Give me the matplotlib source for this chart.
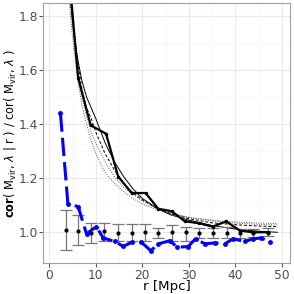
import numpy as np
import matplotlib
matplotlib.use("Agg")
import matplotlib.pyplot as plt

# thick measured ratio (black)
r_thick = [3.5, 6.2, 8.9, 12.2, 14.8, 17.7, 20.7, 23.4, 26.3, 29.1, 32.2, 35.1, 38.0, 41.0, 43.8, 46.9]
y_thick = [2.10, 1.57, 1.395, 1.364, 1.206, 1.145, 1.145, 1.087, 1.078, 1.041, 1.033, 1.021, 1.040, 1.006, 1.000, 1.000]

# blue dashed series
r_blue = [2.4, 4.0, 6.2, 8.0, 10.1, 11.6, 14.1, 15.9, 17.7, 19.8, 21.8, 23.4, 25.9, 27.5, 29.8, 31.5,
          33.4, 35.6, 37.7, 39.5, 42.0, 43.8, 45.6, 47.4]
y_blue = [1.439, 1.105, 1.095, 0.994, 1.021, 0.979, 0.966, 0.948, 0.963, 0.963, 0.932, 0.957, 0.969, 0.945,
          0.947, 0.977, 0.957, 0.961, 0.957, 0.976, 0.966, 0.976, 0.979, 0.963]

# error bars (mean and range)
r_err = [3.5, 6.2, 8.9, 11.8, 14.8, 17.7, 20.5, 23.4, 26.4, 29.3, 32.2, 35.1, 38.1, 41.0, 43.8, 46.9]
y_err = [1.009, 1.006, 0.998, 1.003, 0.996, 0.996, 1.000, 0.996, 1.000, 1.000, 0.998, 0.998, 0.998, 0.998, 0.998, 0.998]
y_hi = [1.083, 1.064, 1.033, 1.035, 1.031, 1.031, 1.031, 1.015, 1.027, 1.019, 1.015, 1.015, 1.019, 1.013, 1.013, 1.015]
y_lo = [0.935, 0.953, 0.962, 0.966, 0.969, 0.969, 0.967, 0.979, 0.969, 0.969, 0.979, 0.979, 0.979, 0.979, 0.981, 0.986]

# thin model curves
r_mod = [4.3, 4.5, 5, 6, 7, 8, 9, 10, 12, 14, 16, 18, 20, 23, 26, 30, 35, 40, 45, 49]
y_solid = [1.92, 1.87, 1.78, 1.65, 1.56, 1.50, 1.46, 1.42, 1.33, 1.26, 1.205, 1.16, 1.125, 1.09, 1.065,
           1.045, 1.025, 1.012, 1.004, 1.000]
y_dash = [1.95, 1.90, 1.80, 1.64, 1.53, 1.46, 1.42, 1.37, 1.29, 1.23, 1.18, 1.145, 1.12, 1.09, 1.07,
          1.05, 1.035, 1.028, 1.023, 1.021]
y_dot1 = [1.85, 1.81, 1.72, 1.58, 1.47, 1.40, 1.34, 1.29, 1.22, 1.18, 1.15, 1.125, 1.105, 1.085, 1.068,
          1.055, 1.045, 1.038, 1.034, 1.032]
y_dot2 = [1.91, 1.87, 1.76, 1.61, 1.50, 1.43, 1.37, 1.33, 1.26, 1.205, 1.165, 1.14, 1.115, 1.09, 1.072,
          1.055, 1.042, 1.034, 1.029, 1.027]

fig = plt.figure(figsize=(2.94, 2.94), dpi=100)
ax = fig.add_axes([0.147, 0.104, 0.839, 0.885])

# thin curves
ax.plot(r_mod, y_dot1, color="#555555", lw=0.7, ls=(0, (1, 1.5)))
ax.plot(r_mod, y_dot2, color="#555555", lw=0.7, ls=(0, (1, 1.5)))
ax.plot(r_mod, y_dash, color="black", lw=0.7, ls=(0, (3, 2)))
ax.plot(r_mod, y_solid, color="black", lw=0.7)

# error bars
eb = ax.errorbar(r_err, y_err, yerr=[np.array(y_err) - np.array(y_lo), np.array(y_hi) - np.array(y_err)],
                 fmt="o", color="black", ms=2, ecolor="#777777", elinewidth=0.9, capsize=4.2, capthick=0.9)
for cap in eb[1]:
    cap.set_color("black")

# thick line
ax.plot(r_thick, y_thick, color="black", lw=1.6, marker="o", ms=1.5)

# blue dashed
ax.plot(r_blue, y_blue, color="blue", lw=2.2, ls=(0, (6, 2)), marker="o", ms=2.5)

ax.set_xlim(-1.3, 51.7)
ax.set_ylim(0.885, 1.846)
ax.set_xticks([0, 10, 20, 30, 40, 50])
ax.set_yticks([1.0, 1.2, 1.4, 1.6, 1.8])
ax.set_yticklabels(["1.0", "1.2", "1.4", "1.6", "1.8"])
ax.set_xticks([5, 15, 25, 35, 45], minor=True)
ax.set_yticks([0.9, 1.1, 1.3, 1.5, 1.7], minor=True)
ax.grid(which="major", color="#EBEBEB", lw=0.8)
ax.grid(which="minor", color="#F4F4F4", lw=0.5)
ax.set_axisbelow(True)
ax.tick_params(which="major", length=2.75, width=0.6, color="#333333", labelsize=8.8, labelcolor="#4D4D4D", pad=1.2)
ax.tick_params(which="minor", length=0)
for s in ax.spines.values():
    s.set_color("#A0A0A0")
    s.set_linewidth(0.8)

ax.set_xlabel("r [Mpc]", fontsize=9.6)
ax.xaxis.set_label_coords(0.5, -0.063)
ax.set_ylabel(r"$\mathbf{cor}$( M$_{\rm vir}$, $\lambda$ | r ) / cor( M$_{\rm vir}$, $\lambda$ )",
              fontsize=8.3)
ax.yaxis.set_label_coords(-0.103, 0.5)

fig.savefig("out.png", dpi=100)
